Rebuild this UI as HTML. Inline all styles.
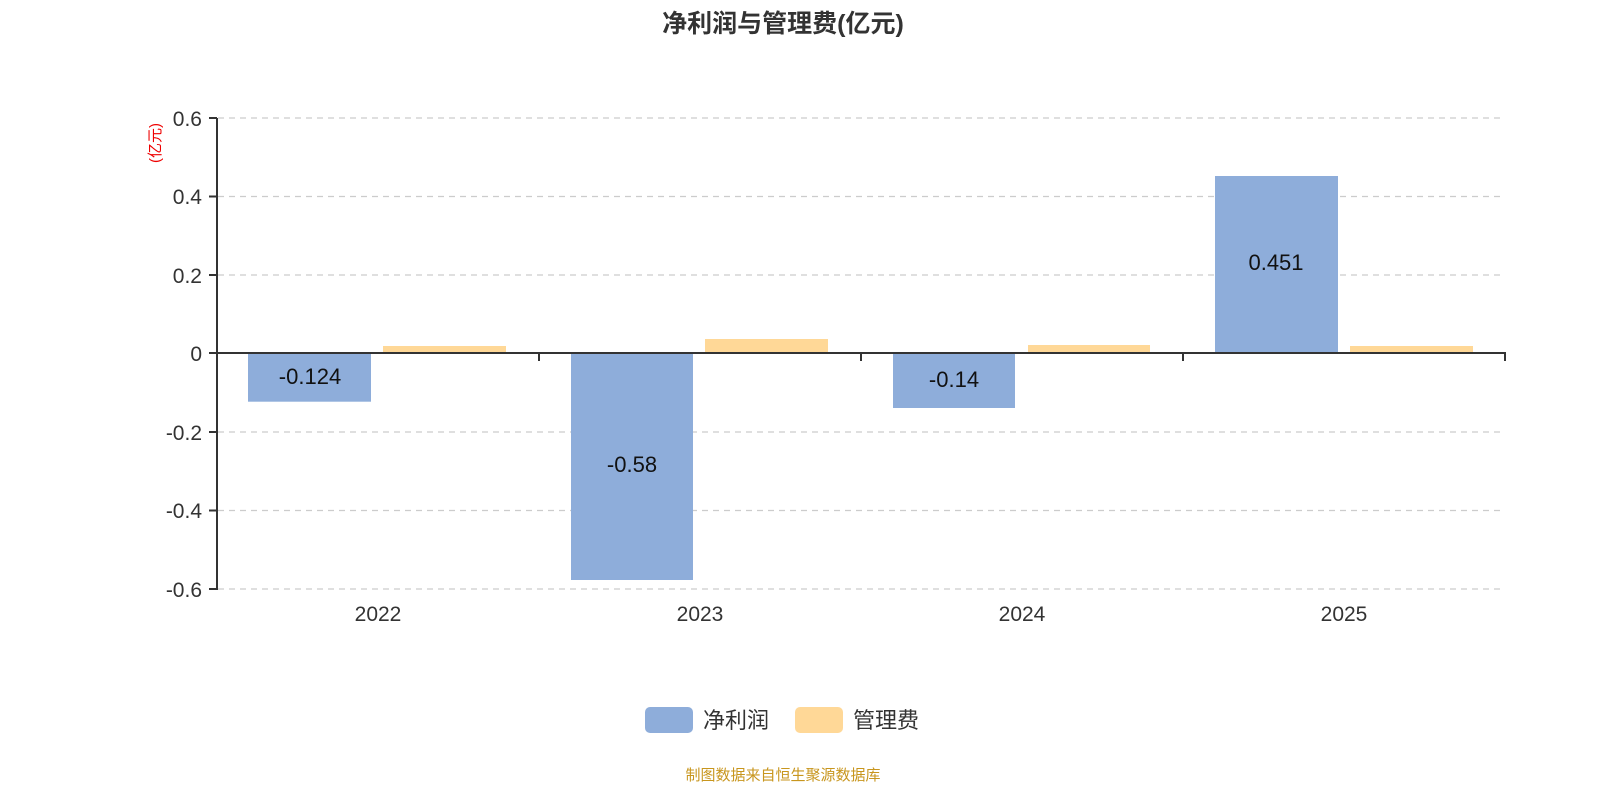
<!DOCTYPE html>
<html><head><meta charset="utf-8"><style>
html,body{margin:0;padding:0;background:#fff;}
svg text{font-family:"Liberation Sans","Noto Sans CJK SC",sans-serif;}
</style></head><body>
<svg width="1600" height="800" viewBox="0 0 1600 800" xmlns="http://www.w3.org/2000/svg">
<text x="783" y="32" text-anchor="middle" font-size="25" font-weight="bold" fill="#333">净利润与管理费(亿元)</text>
<g stroke="#ccc" stroke-width="1.3" stroke-dasharray="6,5">
<line x1="218" y1="118" x2="1505" y2="118"/>
<line x1="218" y1="196.5" x2="1505" y2="196.5"/>
<line x1="218" y1="275" x2="1505" y2="275"/>
<line x1="218" y1="432" x2="1505" y2="432"/>
<line x1="218" y1="510.5" x2="1505" y2="510.5"/>
<line x1="218" y1="589" x2="1505" y2="589"/>
</g>
<g fill="#8eadda">
<rect x="248" y="353" width="123" height="48.7"/>
<rect x="571" y="353" width="122" height="227"/>
<rect x="893" y="353" width="122" height="55"/>
<rect x="1215" y="176" width="123" height="177"/>
</g>
<g fill="#ffd897">
<rect x="383" y="346" width="123" height="7"/>
<rect x="705" y="339" width="123" height="14"/>
<rect x="1028" y="345" width="122" height="8"/>
<rect x="1350" y="346" width="123" height="7"/>
</g>
<g stroke="#333" stroke-width="2">
<line x1="217" y1="118" x2="217" y2="590"/>
<line x1="217" y1="353" x2="1506" y2="353"/>
<line x1="209" y1="118" x2="217" y2="118"/>
<line x1="209" y1="196.5" x2="217" y2="196.5"/>
<line x1="209" y1="275" x2="217" y2="275"/>
<line x1="209" y1="353" x2="217" y2="353"/>
<line x1="209" y1="432" x2="217" y2="432"/>
<line x1="209" y1="510.5" x2="217" y2="510.5"/>
<line x1="209" y1="589" x2="217" y2="589"/>
<line x1="539" y1="353" x2="539" y2="361"/>
<line x1="861" y1="353" x2="861" y2="361"/>
<line x1="1183" y1="353" x2="1183" y2="361"/>
<line x1="1505" y1="353" x2="1505" y2="361"/>
</g>
<g font-size="21" fill="#333" text-anchor="end">
<text x="202" y="126">0.6</text>
<text x="202" y="204">0.4</text>
<text x="202" y="283">0.2</text>
<text x="202" y="361">0</text>
<text x="202" y="440">-0.2</text>
<text x="202" y="518">-0.4</text>
<text x="202" y="597">-0.6</text>
</g>
<text transform="translate(160,143) rotate(-90)" text-anchor="middle" font-size="15" fill="#e00">(亿元)</text>
<g font-size="21" fill="#333" text-anchor="middle">
<text x="378" y="621">2022</text>
<text x="700" y="621">2023</text>
<text x="1022" y="621">2024</text>
<text x="1344" y="621">2025</text>
</g>
<g font-size="22" fill="#111" text-anchor="middle">
<text x="310" y="384">-0.124</text>
<text x="632" y="472">-0.58</text>
<text x="954" y="387">-0.14</text>
<text x="1276" y="270">0.451</text>
</g>
<rect x="645" y="707" width="48" height="26" rx="5" fill="#8eadda"/>
<text x="703" y="728" font-size="22" fill="#333">净利润</text>
<rect x="795" y="707" width="48" height="26" rx="5" fill="#ffd897"/>
<text x="853" y="728" font-size="22" fill="#333">管理费</text>
<text x="783" y="780" text-anchor="middle" font-size="15" fill="#c8961e">制图数据来自恒生聚源数据库</text>
</svg>
</body></html>
